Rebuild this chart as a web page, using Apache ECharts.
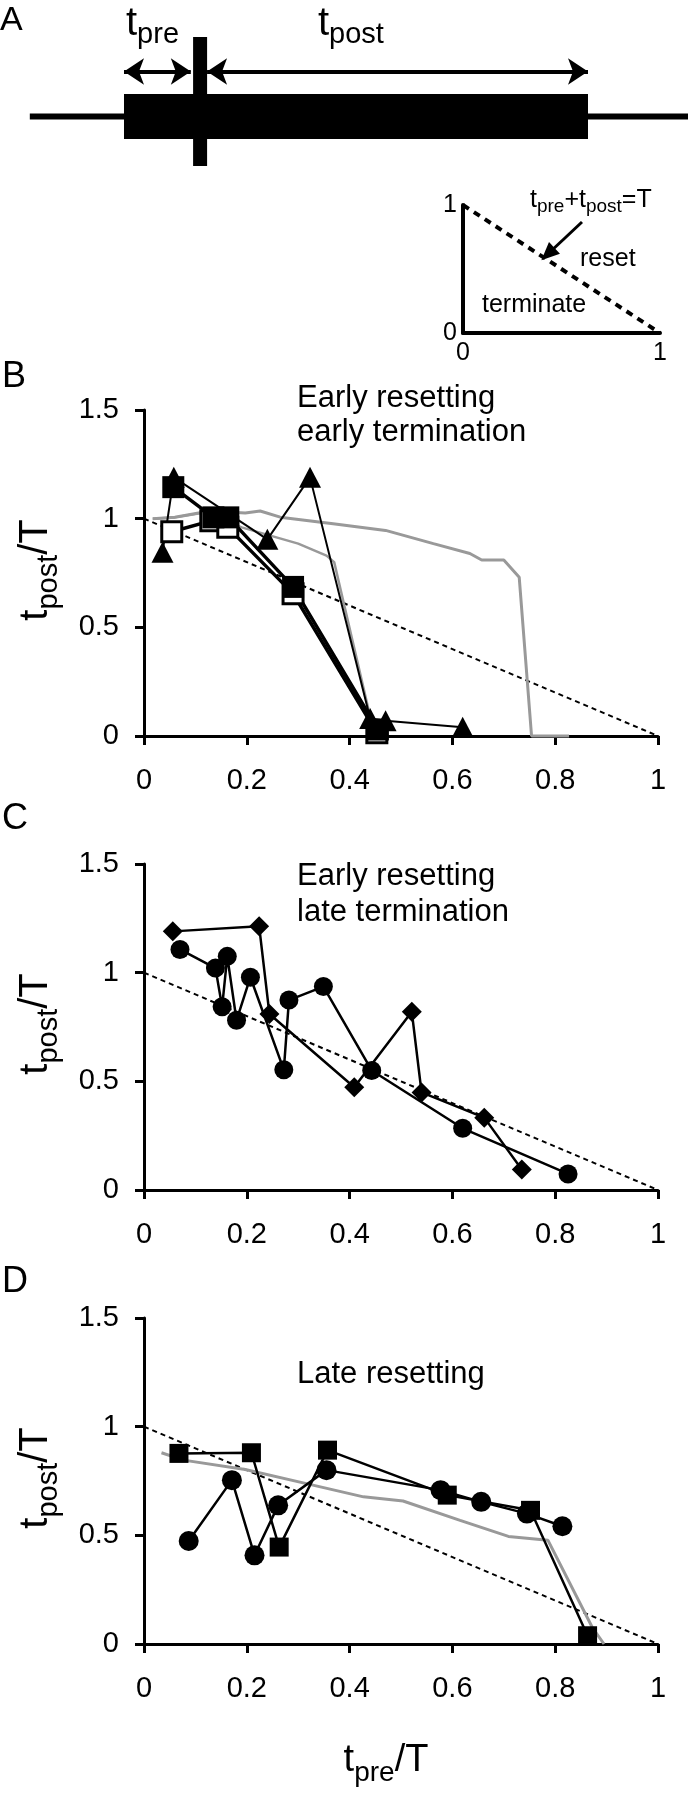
<!DOCTYPE html>
<html>
<head>
<meta charset="utf-8">
<title>Early / late resetting of bursts</title>
<script src="https://cdn.jsdelivr.net/npm/echarts@6.0.0/dist/echarts.min.js"></script>
<style>
  html, body { margin: 0; padding: 0; background: #fff; }
  #main { width: 688px; height: 1800px; }
</style>
</head>
<body>
<div id="main"></div>
<script>
var FONT = '"Liberation Sans", Arial, sans-serif';

// A: schematic, time in units of the burst period T
var traceT = [-0.203, 1.216];
var burstT = [0, 1];
var stimT = [0.164, 0.164];
var stimLevel = [-2.2, 3.53];
var preSpan = [0, 0.144];
var postSpan = [0.179, 1];
// A: inset
var insetX = [0, 1];
var insetY = [1, 0];
var insetArrowFrom = [0.604, 0.867];
var insetArrowTo = [0.431, 0.617];

// line tpre + tpost = T
var diagX = [0, 1];
var diagY = [1, 0];

// B: early resetting, early termination
var bTriX = [0.036, 0.058, 0.24, 0.323, 0.44, 0.47, 0.62];
var bTriY = [0.845, 1.19, 0.905, 1.19, 0.08, 0.07, 0.04];
var bOpenX = [0.054, 0.13, 0.163, 0.29, 0.453];
var bOpenY = [0.94, 0.99, 0.96, 0.655, 0.015];
var bSqX = [0.057, 0.135, 0.164, 0.29, 0.455];
var bSqY = [1.145, 1.006, 1.006, 0.686, 0.03];
var bModel1X = [0.017, 0.06, 0.128, 0.197, 0.226, 0.265, 0.368, 0.47, 0.563, 0.634, 0.657, 0.70, 0.73, 0.754, 0.827];
var bModel1Y = [1.0, 1.007, 1.035, 1.026, 1.035, 1.007, 0.977, 0.946, 0.885, 0.84, 0.81, 0.81, 0.73, 0, 0];
var bModel2X = [0.017, 0.06, 0.12, 0.19, 0.30, 0.355, 0.37, 0.44, 0.455];
var bModel2Y = [1.0, 1.005, 1.03, 0.96, 0.885, 0.83, 0.80, 0.09, 0];

// C: early resetting, late termination
var cDiaX = [0.056, 0.224, 0.244, 0.409, 0.521, 0.54, 0.662, 0.735];
var cDiaY = [1.19, 1.214, 0.81, 0.473, 0.82, 0.449, 0.333, 0.094];
var cCirX = [0.07, 0.139, 0.152, 0.162, 0.18, 0.207, 0.272, 0.282, 0.349, 0.443, 0.62, 0.825];
var cCirY = [1.107, 1.021, 0.843, 1.075, 0.781, 0.979, 0.553, 0.874, 0.936, 0.55, 0.284, 0.074];

// D: late resetting
var dSqX = [0.068, 0.209, 0.263, 0.357, 0.59, 0.752, 0.863];
var dSqY = [0.877, 0.88, 0.446, 0.892, 0.685, 0.615, 0.038];
var dCirX = [0.087, 0.171, 0.215, 0.261, 0.355, 0.577, 0.656, 0.745, 0.814];
var dCirY = [0.474, 0.754, 0.408, 0.638, 0.80, 0.708, 0.654, 0.60, 0.542];
var dModelX = [0.034, 0.077, 0.197, 0.316, 0.427, 0.504, 0.615, 0.709, 0.786, 0.872, 0.895];
var dModelY = [0.88, 0.846, 0.803, 0.738, 0.677, 0.658, 0.569, 0.495, 0.477, 0.077, 0];

var panelTops = [410, 864, 1318];

function pts(xs, ys) {
  return xs.map(function (x, i) { return [x, ys[i]]; });
}

function curve(g, xs, ys, o) {
  return {
    type: 'line', xAxisIndex: g, yAxisIndex: g, data: pts(xs, ys),
    symbol: o.symbol || 'none', symbolSize: o.size || 0, showSymbol: !!o.symbol,
    lineStyle: { color: o.color || '#000', width: o.width || 2.5, type: o.dash || 'solid', cap: 'butt' },
    itemStyle: { color: o.fill || '#000', borderColor: '#000', borderWidth: o.border || 0, opacity: 1 },
    clip: false, silent: true, z: o.z || 2
  };
}

// text made of runs with their own size and baseline shift (for subscripts)
var ruler = document.createElement('canvas').getContext('2d');
function textRun(parts, x, y, align, rot) {
  var widths = parts.map(function (p) {
    ruler.font = p[1] + 'px ' + FONT;
    return ruler.measureText(p[0]).width;
  });
  var total = widths.reduce(function (a, b) { return a + b; }, 0);
  var cx = align === 'center' ? -total / 2 : 0;
  var kids = parts.map(function (p, i) {
    var el = {
      type: 'text', x: cx, y: (p[2] || 0) - 0.31 * p[1],
      style: { text: p[0], font: p[1] + 'px ' + FONT, fill: '#000',
               textAlign: 'left', textVerticalAlign: 'middle', align: 'left', verticalAlign: 'middle' }
    };
    cx += widths[i];
    return el;
  });
  return { type: 'group', x: x, y: y, rotation: rot || 0, silent: true, children: kids };
}

var grids = [
  { left: 0, top: 26.5, width: 688, height: 180 },
  { left: 463, top: 205, width: 197, height: 128 }
];
var xAxes = [
  { gridIndex: 0, type: 'value', min: -0.26724, max: 1.21552, show: false },
  { gridIndex: 1, type: 'value', min: 0, max: 1, interval: 1,
    axisLine: { show: true, lineStyle: { color: '#000', width: 4 } },
    axisTick: { show: false }, splitLine: { show: false },
    axisLabel: { color: '#000', fontSize: 25, fontFamily: FONT, margin: 8 } }
];
var yAxes = [
  { gridIndex: 0, type: 'value', min: -4, max: 4, show: false },
  { gridIndex: 1, type: 'value', min: 0, max: 1, interval: 1,
    axisLine: { show: true, lineStyle: { color: '#000', width: 4 } },
    axisTick: { show: false }, splitLine: { show: false },
    axisLabel: { color: '#000', fontSize: 25, fontFamily: FONT, margin: 6 } }
];

panelTops.forEach(function (top, i) {
  grids.push({ left: 144, top: top, width: 514, height: 326 });
  xAxes.push({
    gridIndex: i + 2, type: 'value', min: 0, max: 1, interval: 0.2,
    axisLine: { show: true, onZero: false, lineStyle: { color: '#000', width: 3 } },
    axisTick: { show: true, inside: false, length: 9, lineStyle: { color: '#000', width: 3 } },
    splitLine: { show: false },
    axisLabel: { color: '#000', fontSize: 29, fontFamily: FONT, margin: 30 }
  });
  yAxes.push({
    gridIndex: i + 2, type: 'value', min: 0, max: 1.5, interval: 0.5,
    axisLine: { show: true, onZero: false, lineStyle: { color: '#000', width: 3 } },
    axisTick: { show: true, inside: false, length: 9, lineStyle: { color: '#000', width: 3 } },
    splitLine: { show: false },
    axisLabel: { color: '#000', fontSize: 29, fontFamily: FONT, margin: 25 }
  });
});

var GRAY = '#999';
var DASH = [5, 4];

var series = [
  // A schematic
  curve(0, traceT, [0, 0], { width: 6 }),
  (function () {
    var s = curve(0, burstT, [0, 0], { width: 45 });
    s.markLine = {
      silent: true, symbol: ['arrow', 'arrow'], symbolSize: [20, 20],
      label: { show: false },
      lineStyle: { color: '#000', width: 4, type: 'solid' },
      data: [
        [{ coord: [preSpan[0], 2] }, { coord: [preSpan[1], 2] }],
        [{ coord: [postSpan[0], 2] }, { coord: [postSpan[1], 2] }]
      ]
    };
    return s;
  })(),
  curve(0, stimT, stimLevel, { width: 14 }),
  // A inset
  (function () {
    var s = curve(1, insetX, insetY, { width: 4, dash: [7, 6] });
    s.markLine = {
      silent: true, symbol: ['none', 'triangle'], symbolSize: [16, 18],
      label: { show: false },
      lineStyle: { color: '#000', width: 3, type: 'solid', curveness: 0.5 },
      data: [[{ coord: insetArrowFrom }, { coord: insetArrowTo }]]
    };
    return s;
  })(),

  // B
  curve(2, diagX, diagY, { width: 2, dash: DASH }),
  curve(2, bModel1X, bModel1Y, { width: 3, color: GRAY }),
  curve(2, bModel2X, bModel2Y, { width: 2.5, color: GRAY }),
  curve(2, bTriX, bTriY, { width: 2, symbol: 'triangle', size: [22, 21] }),
  curve(2, bOpenX, bOpenY, { width: 3.5, symbol: 'rect', size: 20, fill: '#fff', border: 3 }),
  curve(2, bSqX, bSqY, { width: 3.5, symbol: 'rect', size: 22 }),

  // C
  curve(3, diagX, diagY, { width: 2, dash: DASH }),
  curve(3, cDiaX, cDiaY, { width: 2.5, symbol: 'diamond', size: 20 }),
  curve(3, cCirX, cCirY, { width: 2.5, symbol: 'circle', size: 19 }),

  // D
  curve(4, diagX, diagY, { width: 2, dash: DASH }),
  curve(4, dModelX, dModelY, { width: 3, color: GRAY }),
  curve(4, dCirX, dCirY, { width: 2.5, symbol: 'circle', size: 20 }),
  curve(4, dSqX, dSqY, { width: 2.5, symbol: 'rect', size: 19 })
];

var texts = [
  textRun([['A', 34, 0]], 0, 31),
  textRun([['t', 40, 0], ['pre', 29, 8]], 126, 36),
  textRun([['t', 40, 0], ['post', 29, 8]], 318, 36),
  textRun([['t', 25, 0], ['pre', 19, 5], ['+t', 25, 0], ['post', 19, 5], ['=T', 25, 0]], 530, 208),
  textRun([['reset', 25, 0]], 580, 267),
  textRun([['terminate', 25, 0]], 482, 313),

  textRun([['B', 36, 0]], 2, 388),
  textRun([['Early resetting', 31, 0]], 297, 408),
  textRun([['early termination', 31, 0]], 297, 442),

  textRun([['C', 36, 0]], 2, 830),
  textRun([['Early resetting', 31, 0]], 297, 886),
  textRun([['late termination', 31, 0]], 297, 922),

  textRun([['D', 36, 0]], 2, 1293),
  textRun([['Late resetting', 31, 0]], 297, 1384),

  textRun([['t', 38, 0], ['pre', 28, 10], ['/T', 38, 0]], 386, 1772, 'center')
];
panelTops.forEach(function (top) {
  texts.push(textRun([['t', 40, 0], ['post', 29, 10], ['/T', 40, 0]], 48, top + 160, 'center', Math.PI / 2));
});

var chart = echarts.init(document.getElementById('main'), null, { renderer: 'canvas' });
chart.setOption({
  animation: false,
  backgroundColor: '#fff',
  grid: grids,
  xAxis: xAxes,
  yAxis: yAxes,
  series: series,
  graphic: { elements: texts }
});
</script>
</body>
</html>
